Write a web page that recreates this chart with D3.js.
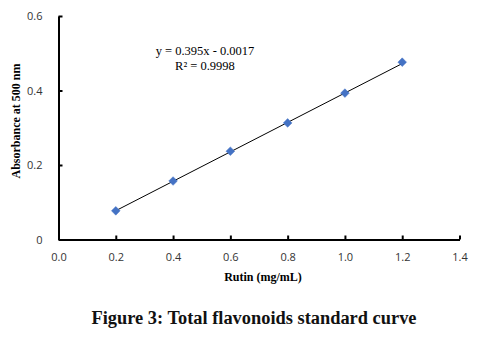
<!DOCTYPE html>
<html><head><meta charset="utf-8">
<script src="https://cdn.jsdelivr.net/npm/d3@7"></script>
<style>body{margin:0;background:#fff}svg{display:block}</style>
</head><body>
<script>
const concentrations = [0.2, 0.4, 0.6, 0.8, 1.0, 1.2];
const absorbance = [0.077, 0.157, 0.237, 0.313, 0.393, 0.476];
const xTicks = [0.0, 0.2, 0.4, 0.6, 0.8, 1.0, 1.2, 1.4];
const yTicks = [0, 0.2, 0.4, 0.6];
const slope = 0.395, intercept = -0.0017;
const equationLines = ["y = 0.395x - 0.0017", "R\u00B2 = 0.9998"];
const xTitle = "Rutin (mg/mL)";
const yTitle = "Absorbance at 500 nm";
const caption = "Figure 3: Total flavonoids standard curve";

const W = 478, H = 337;
const svg = d3.select("body").append("svg").attr("width", W).attr("height", H);
const x = d3.scaleLinear().domain([0, 1.4]).range([58.5, 459.5]);
const y = d3.scaleLinear().domain([0, 0.6]).range([239.5, 16]);
const sans = "'Open Sans', 'Liberation Sans', sans-serif";
const serif = "'Liberation Serif', 'Times New Roman', serif";

// y axis
const ya = svg.append("g").attr("transform", `translate(${x(0)},0)`)
  .call(d3.axisLeft(y).tickValues(yTicks).tickFormat(d => d === 0 ? "0" : d3.format(".1f")(d)).tickSizeInner(-4).tickSizeOuter(0).tickPadding(16));
ya.select(".domain").attr("stroke", "#000").attr("stroke-width", 2);
ya.selectAll(".tick line").attr("stroke", "#000").attr("stroke-width", 2);
ya.selectAll("text").attr("font-family", sans).attr("font-size", 11).attr("fill", "#333");

// x axis
const xa = svg.append("g").attr("transform", `translate(0,${y(0)})`)
  .call(d3.axisBottom(x).tickValues(xTicks).tickFormat(d3.format(".1f")).tickSizeInner(-4).tickSizeOuter(0).tickPadding(14));
xa.select(".domain").attr("stroke", "#000").attr("stroke-width", 2);
xa.selectAll(".tick line").attr("stroke", "#000").attr("stroke-width", 2);
xa.selectAll("text").attr("font-family", sans).attr("font-size", 11).attr("fill", "#333");

// trend line
const x0 = d3.min(concentrations), x1 = d3.max(concentrations);
svg.append("line")
  .attr("x1", x(x0)).attr("y1", y(slope * x0 + intercept))
  .attr("x2", x(x1)).attr("y2", y(slope * x1 + intercept))
  .attr("stroke", "#000").attr("stroke-width", 1);

// markers
svg.selectAll("path.pt").data(concentrations).enter().append("path")
  .attr("class", "pt")
  .attr("d", d3.symbol(d3.symbolDiamond2, 48))
  .attr("transform", (d, i) => `translate(${x(d)},${y(absorbance[i])})`)
  .attr("fill", "#4472C4").attr("stroke", "#4472C4").attr("stroke-width", 0.5);

// equation
svg.selectAll("text.eq").data(equationLines).enter().append("text")
  .attr("class", "eq")
  .attr("x", 205).attr("y", (d, i) => 55 + i * 15)
  .attr("text-anchor", "middle")
  .attr("font-family", serif).attr("font-size", 12.5).attr("fill", "#000")
  .text(d => d);

// axis titles
svg.append("text").attr("x", 263).attr("y", 281).attr("text-anchor", "middle")
  .attr("font-family", serif).attr("font-weight", "bold").attr("font-size", 12).text(xTitle);
svg.append("text").attr("transform", "translate(20,121) rotate(-90)").attr("text-anchor", "middle")
  .attr("font-family", serif).attr("font-weight", "bold").attr("font-size", 12).text(yTitle);

// caption
svg.append("text").attr("x", 254).attr("y", 324).attr("text-anchor", "middle")
  .attr("font-family", serif).attr("font-weight", "bold").attr("font-size", 18)
  .attr("textLength", 325).attr("lengthAdjust", "spacingAndGlyphs").attr("fill", "#111").text(caption);
</script>
</body></html>
